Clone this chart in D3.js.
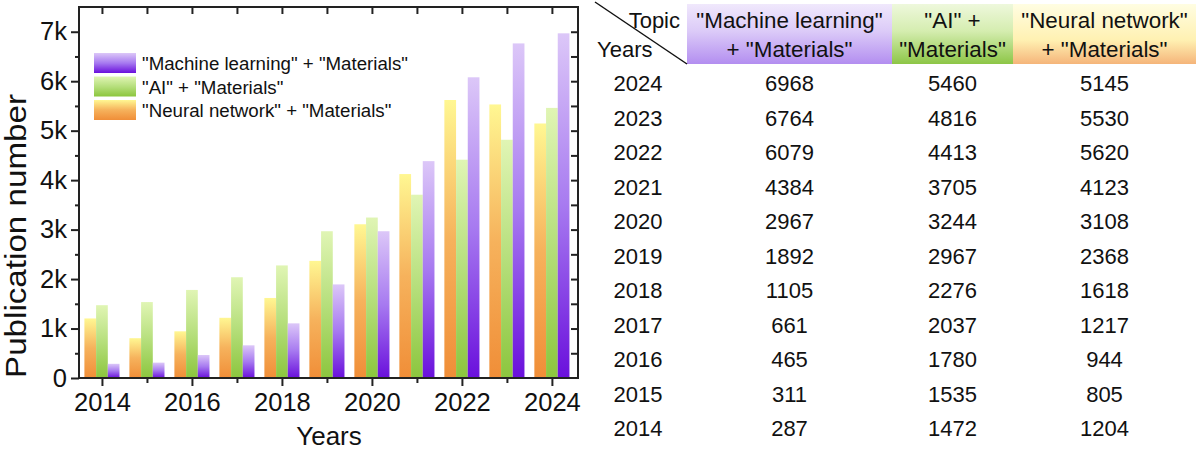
<!DOCTYPE html>
<html>
<head>
<meta charset="utf-8">
<script src="https://cdn.jsdelivr.net/npm/d3@7"></script>
<style>
  body { margin: 0; background: #fff; }
  svg text { font-family: "Liberation Sans", Arial, sans-serif; fill: #111; }
</style>
</head>
<body>
<svg id="chart"></svg>
<script>
const years = [2014, 2015, 2016, 2017, 2018, 2019, 2020, 2021, 2022, 2023, 2024];
const mlCounts = [287, 311, 465, 661, 1105, 1892, 2967, 4384, 6079, 6764, 6968];
const aiCounts = [1472, 1535, 1780, 2037, 2276, 2967, 3244, 3705, 4413, 4816, 5460];
const nnCounts = [1204, 805, 944, 1217, 1618, 2368, 3108, 4123, 5620, 5530, 5145];
const seriesNames = ['"Machine learning" + "Materials"', '"AI" + "Materials"', '"Neural network" + "Materials"'];
const headerLines = [['"Machine learning"', '+ "Materials"'], ['"AI" +', '"Materials"'], ['"Neural network"', '+ "Materials"']];
const yTicks = [0, 1000, 2000, 3000, 4000, 5000, 6000, 7000];
const xTickYears = [2014, 2016, 2018, 2020, 2022, 2024];

const width = 1200, height = 450;
const svg = d3.select("#chart").attr("width", width).attr("height", height);
const defs = svg.append("defs");

function gradient(id, stops) {
    const g = defs.append("linearGradient").attr("id", id)
        .attr("x1", 0).attr("y1", 0).attr("x2", 0).attr("y2", 1);
    stops.forEach(s => g.append("stop").attr("offset", s[0]).attr("stop-color", s[1]));
}
gradient("g-ml", [[0, "#dcc7f8"], [0.5, "#a77af0"], [1, "#6a10dc"]]);
gradient("g-ai", [[0, "#e0f5b4"], [0.5, "#b6df7c"], [1, "#8cc63e"]]);
gradient("g-nn", [[0, "#fff792"], [0.5, "#f6b25c"], [1, "#f08e38"]]);
gradient("h-ml", [[0, "#f0e8fc"], [0.45, "#dccbf8"], [1, "#b38ef0"]]);
gradient("h-ai", [[0, "#eef8dc"], [0.45, "#d5edb0"], [1, "#8dc647"]]);
gradient("h-nn", [[0, "#fffde2"], [0.6, "#fff1b2"], [1, "#f5b57a"]]);

// ---------- bar chart ----------
const plot = { left: 79, right: 578, top: 7, bottom: 378 };
const x = d3.scaleLinear().domain([2013.49, 2024.58]).range([plot.left, plot.right]);
const y = d3.scaleLinear().domain([0, 7500]).range([plot.bottom, plot.top]);
const barW = 0.26;

const series = [
    { key: "nn", values: nnCounts, offset: -1.5 * barW },
    { key: "ai", values: aiCounts, offset: -0.5 * barW },
    { key: "ml", values: mlCounts, offset: 0.5 * barW }
];

series.forEach(s => {
    svg.append("g").selectAll("rect")
        .data(years.map((yr, i) => ({ yr, v: s.values[i] })))
        .enter().append("rect")
        .attr("x", d => x(d.yr + s.offset))
        .attr("width", d => x(d.yr + s.offset + barW) - x(d.yr + s.offset))
        .attr("y", d => y(d.v))
        .attr("height", d => y(0) - y(d.v))
        .attr("fill", `url(#g-${s.key})`);
});

const axisColor = "#222";
const fmt = d => d === 0 ? "0" : (d / 1000) + "k";
const minorY = d3.range(500, 7500, 1000);
const allHalf = d3.range(500, 7500, 500);

// left
svg.append("g").attr("transform", `translate(${plot.left},0)`)
    .call(d3.axisLeft(y).tickValues(yTicks).tickFormat(fmt).tickSize(8).tickPadding(4).tickSizeOuter(0));
svg.append("g").attr("transform", `translate(${plot.left},0)`)
    .call(d3.axisLeft(y).tickValues(minorY).tickFormat("").tickSize(4).tickSizeOuter(0));
// right
svg.append("g").attr("transform", `translate(${plot.right},0)`)
    .call(d3.axisLeft(y).tickValues(allHalf).tickFormat("").tickSize(7).tickSizeOuter(0));
// bottom
svg.append("g").attr("transform", `translate(0,${plot.bottom})`)
    .call(d3.axisBottom(x).tickValues(xTickYears).tickFormat(d3.format("d")).tickSize(8).tickPadding(7).tickSizeOuter(0));
svg.append("g").attr("transform", `translate(0,${plot.bottom})`)
    .call(d3.axisBottom(x).tickValues(years.filter(v => v % 2)).tickFormat("").tickSize(5).tickSizeOuter(0));
// top
svg.append("g").attr("transform", `translate(0,${plot.top})`)
    .call(d3.axisBottom(x).tickValues(years).tickFormat("").tickSize(7).tickSizeOuter(0));

svg.selectAll(".domain").remove();
svg.selectAll(".tick line").attr("stroke", axisColor).attr("stroke-width", 2);
svg.selectAll(".tick text").attr("font-size", 25.5).attr("fill", "#111")
    .attr("font-family", '"Liberation Sans", Arial, sans-serif');

svg.append("rect")
    .attr("x", plot.left).attr("y", plot.top)
    .attr("width", plot.right - plot.left).attr("height", plot.bottom - plot.top)
    .attr("fill", "none").attr("stroke", axisColor).attr("stroke-width", 2);

svg.append("text")
    .attr("transform", "translate(26,236) rotate(-90)")
    .attr("text-anchor", "middle").attr("font-size", 29)
    .attr("textLength", 284).attr("lengthAdjust", "spacingAndGlyphs")
    .text("Publication number");
svg.append("text")
    .attr("x", 329).attr("y", 445)
    .attr("text-anchor", "middle").attr("font-size", 26)
    .text("Years");

// legend
const legendKeys = ["ml", "ai", "nn"];
const legend = svg.append("g").attr("transform", "translate(94,53)");
legendKeys.forEach((k, i) => {
    const row = legend.append("g").attr("transform", `translate(0,${i * 23.5})`);
    row.append("rect").attr("width", 42).attr("height", 20).attr("fill", `url(#g-${k})`);
    row.append("text").attr("x", 48).attr("y", 17).attr("font-size", 18.7)
        .text(seriesNames[i]);
});

// ---------- table ----------
const cols = [
    { key: "ml", x0: 687, x1: 892, values: mlCounts },
    { key: "ai", x0: 892, x1: 1013, values: aiCounts },
    { key: "nn", x0: 1013, x1: 1196, values: nnCounts }
];
const yearColX = 638;
const headTop = 4, headBottom = 64;

cols.forEach((c, i) => {
    svg.append("rect")
        .attr("x", c.x0).attr("y", headTop)
        .attr("width", c.x1 - c.x0).attr("height", headBottom - headTop)
        .attr("fill", `url(#h-${c.key})`);
    headerLines[i].forEach((ln, j) => {
        svg.append("text")
            .attr("x", (c.x0 + c.x1) / 2).attr("y", 28 + j * 29)
            .attr("text-anchor", "middle").attr("font-size", 22.4)
            .text(ln);
    });
});

svg.append("line")
    .attr("x1", 595).attr("y1", 2).attr("x2", 687).attr("y2", 64)
    .attr("stroke", "#111").attr("stroke-width", 1.5);
svg.append("text").attr("x", 680).attr("y", 28)
    .attr("text-anchor", "end").attr("font-size", 22).text("Topic");
svg.append("text").attr("x", 597).attr("y", 57)
    .attr("font-size", 22).text("Years");

const rowIdx = years.map((yr, i) => i).reverse();
const rowY = d3.scaleLinear().domain([0, 10]).range([91, 436]);

const rows = svg.append("g").selectAll("g")
    .data(rowIdx)
    .enter().append("g")
    .attr("transform", (d, r) => `translate(0,${rowY(r)})`);

rows.append("text").attr("x", yearColX).attr("text-anchor", "middle")
    .attr("font-size", 22).text(i => years[i]);
cols.forEach(c => {
    rows.append("text").attr("x", (c.x0 + c.x1) / 2).attr("text-anchor", "middle")
        .attr("font-size", 22).text(i => c.values[i]);
});
</script>
</body>
</html>
